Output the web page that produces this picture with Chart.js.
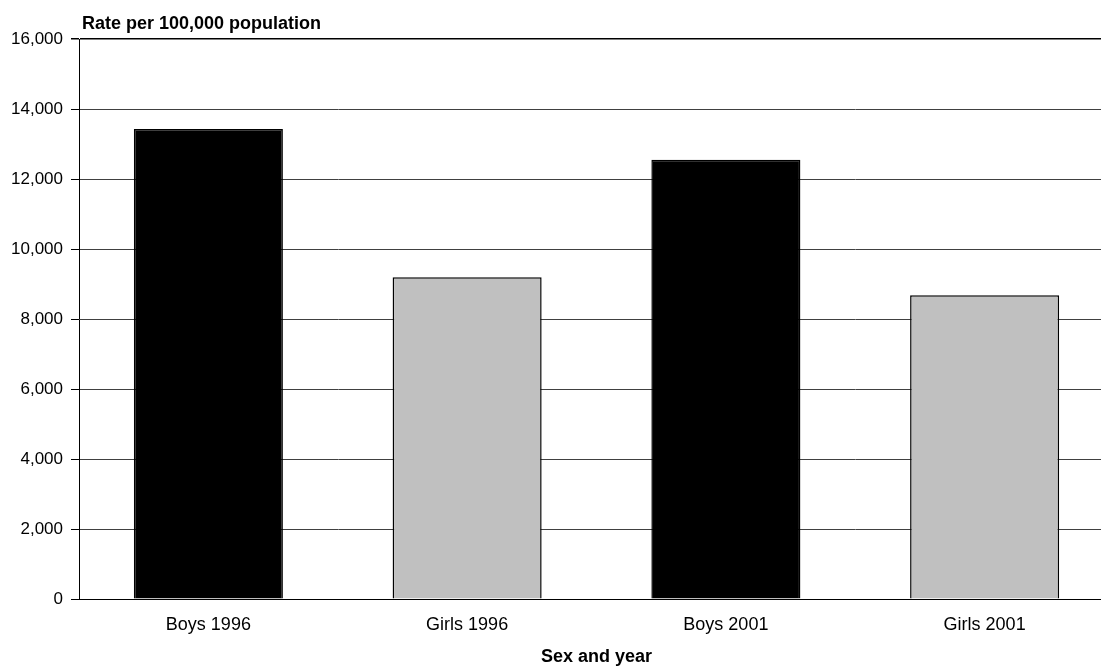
<!DOCTYPE html>
<html>
<head>
<meta charset="utf-8">
<script src="https://cdn.jsdelivr.net/npm/chart.js@4/dist/chart.umd.min.js"></script>
<style>
  html, body { margin: 0; padding: 0; background: #fff; overflow: hidden; }
  #wrap { position: relative; width: 1114px; height: 666px; }
</style>
</head>
<body>
<div id="wrap"><canvas id="chartRate"></canvas></div>
<script>
// Rate per 100,000 population, by sex and year
const categories = ['Boys 1996', 'Girls 1996', 'Boys 2001', 'Girls 2001'];
const rateValues = [13430, 9190, 12550, 8680];
const barColours = ['#000000', '#c0c0c0', '#000000', '#c0c0c0'];
const yTicks = [0, 2000, 4000, 6000, 8000, 10000, 12000, 14000, 16000];

const FONT = "'Liberation Sans', Arial, sans-serif";

// y title sits horizontally above the plot, left aligned with the axis
const yTitlePlugin = {
    id: 'yTitle',
    afterDraw(chart) {
        const ctx = chart.ctx;
        ctx.save();
        ctx.font = 'bold 18px ' + FONT;
        ctx.fillStyle = '#000';
        ctx.textAlign = 'left';
        ctx.textBaseline = 'alphabetic';
        ctx.fillText('Rate per 100,000 population', chart.chartArea.left + 3, 29);
        ctx.restore();
    }
};

new Chart(document.getElementById('chartRate').getContext('2d'), {
    type: 'bar',
    data: {
        labels: categories,
        datasets: [{
            label: 'Rate',
            data: rateValues,
            backgroundColor: barColours,
            borderColor: '#000',
            borderWidth: 1.5,
            categoryPercentage: 1,
            barPercentage: 0.576
        }]
    },
    options: {
        responsive: true,
        maintainAspectRatio: false,
        animation: false,
        layout: { padding: { top: 39, right: 0, left: 0, bottom: 0 } },
        plugins: { legend: { display: false }, tooltip: { enabled: false } },
        scales: {
            x: {
                grid: { display: false, drawTicks: false },
                border: { display: true, color: '#000', width: 1 },
                ticks: { color: '#000', padding: 15, font: { family: FONT, size: 18 } },
                title: {
                    display: true, text: 'Sex and year', color: '#000',
                    padding: { top: 0, bottom: 0 },
                    font: { family: FONT, size: 18, weight: 'bold', lineHeight: 1 }
                },
                afterFit: s => { s.height = 67; }
            },
            y: {
                min: 0, max: 16000,
                afterBuildTicks: s => { s.ticks = yTicks.map(v => ({ value: v })); },
                grid: {
                    color: c => c.tick && c.tick.value === 16000 ? '#000' : '#404040',
                    lineWidth: c => c.tick && c.tick.value === 16000 ? 1.5 : 1,
                    tickColor: '#000', tickLength: 8
                },
                border: { display: true, color: '#000', width: 1 },
                ticks: {
                    color: '#000', padding: 8,
                    font: { family: FONT, size: 17 },
                    callback: v => v.toLocaleString('en-US')
                },
                afterFit: s => { s.width = 79; }
            }
        }
    },
    plugins: [yTitlePlugin]
});
</script>
</body>
</html>
